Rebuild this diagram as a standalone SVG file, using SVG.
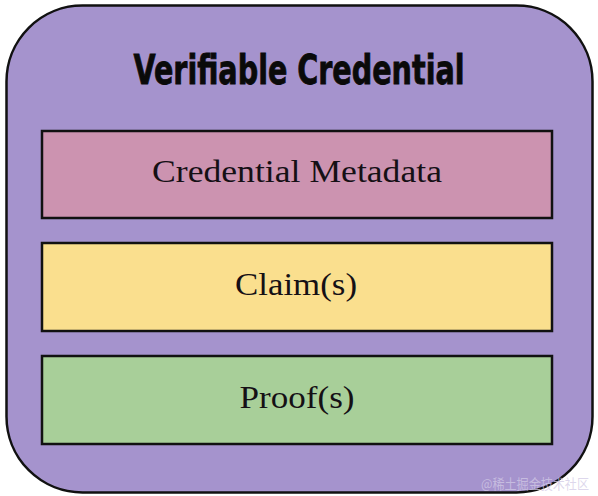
<svg xmlns="http://www.w3.org/2000/svg" width="598" height="496" viewBox="0 0 598 496">
<style>
.box{stroke:#111;stroke-width:2.5}
.lbl{font-family:"Liberation Serif","Times New Roman",serif;font-size:31px;fill:#151015;text-anchor:middle}
</style>
<rect x="0" y="0" width="598" height="496" fill="#ffffff"/>
<g id="verifiable-credential">
<rect x="6.5" y="5.5" width="586" height="487" rx="76" ry="76" fill="#a593cd" stroke="#111" stroke-width="2.5"/>
<text x="299" y="84" font-family="'Liberation Sans Narrow','DejaVu Sans Condensed','Liberation Sans',sans-serif" font-weight="bold" font-size="41" fill="#0a0a0a" stroke="#0a0a0a" stroke-width="0.8" text-anchor="middle" textLength="331" lengthAdjust="spacingAndGlyphs">Verifiable Credential</text>
</g>
<g id="credential-metadata">
<rect class="box" x="42" y="131" width="510" height="87" fill="#cc93b0"/>
<text class="lbl" x="297" y="182" textLength="290" lengthAdjust="spacingAndGlyphs">Credential Metadata</text>
</g>
<g id="claims">
<rect class="box" x="42" y="243" width="510" height="88" fill="#fadf8e"/>
<text class="lbl" x="296" y="295" textLength="122" lengthAdjust="spacingAndGlyphs">Claim(s)</text>
</g>
<g id="proofs">
<rect class="box" x="42" y="356" width="510" height="88" fill="#a8cf99"/>
<text class="lbl" x="297" y="408" textLength="115" lengthAdjust="spacingAndGlyphs">Proof(s)</text>
</g>
<g id="connectors"/>
<text x="589" y="489" font-family="'Noto Sans CJK SC',sans-serif" font-size="13.5" fill="#d2cae6" fill-opacity="0.75" text-anchor="end" textLength="108" lengthAdjust="spacingAndGlyphs">@稀土掘金技术社区</text>
</svg>
